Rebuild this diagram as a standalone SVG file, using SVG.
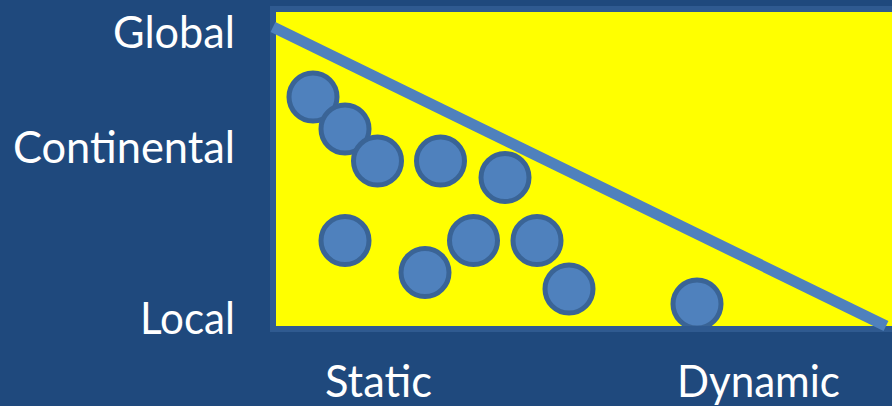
<svg xmlns="http://www.w3.org/2000/svg" width="892" height="406" viewBox="0 0 892 406">
  <style>
    .lbl { font-family: Lato, "Open Sans", "Liberation Sans", sans-serif; font-size: 44px; fill: #ffffff; }
    .dot { fill: #4f81bd; stroke: #3a6496; stroke-width: 5; }
  </style>
  <rect x="0" y="0" width="892" height="406" fill="#1f497d"/>
  <rect id="field" x="273" y="9" width="640" height="320" fill="#ffff00"/>
  <g id="points">
    <circle class="dot" cx="313" cy="97" r="24"/>
    <circle class="dot" cx="345" cy="129" r="24"/>
    <circle class="dot" cx="377.5" cy="161" r="24"/>
    <circle class="dot" cx="440.5" cy="161" r="24"/>
    <circle class="dot" cx="505" cy="177.5" r="24"/>
    <circle class="dot" cx="345" cy="240.5" r="24"/>
    <circle class="dot" cx="425" cy="272.5" r="24"/>
    <circle class="dot" cx="473.5" cy="240.5" r="24"/>
    <circle class="dot" cx="537" cy="240.5" r="24"/>
    <circle class="dot" cx="569" cy="289" r="24"/>
    <circle class="dot" cx="697" cy="304" r="24"/>
  </g>
  <rect id="frame" x="273" y="9" width="640" height="320" fill="none" stroke="#2f5a90" stroke-width="6"/>
  <g id="connectors">
    <line x1="273" y1="27" x2="886" y2="326" stroke="#4f81bd" stroke-width="11"/>
  </g>
  <g id="labels">
    <text class="lbl" x="235" y="48" text-anchor="end" textLength="122" lengthAdjust="spacingAndGlyphs">Global</text>
    <text class="lbl" x="235" y="163" text-anchor="end" textLength="222" lengthAdjust="spacingAndGlyphs">Continental</text>
    <text class="lbl" x="235" y="334" text-anchor="end" textLength="95" lengthAdjust="spacingAndGlyphs">Local</text>
    <text class="lbl" x="325" y="397" textLength="107" lengthAdjust="spacingAndGlyphs">Static</text>
    <text class="lbl" x="677" y="397" textLength="163" lengthAdjust="spacingAndGlyphs">Dynamic</text>
  </g>
</svg>
